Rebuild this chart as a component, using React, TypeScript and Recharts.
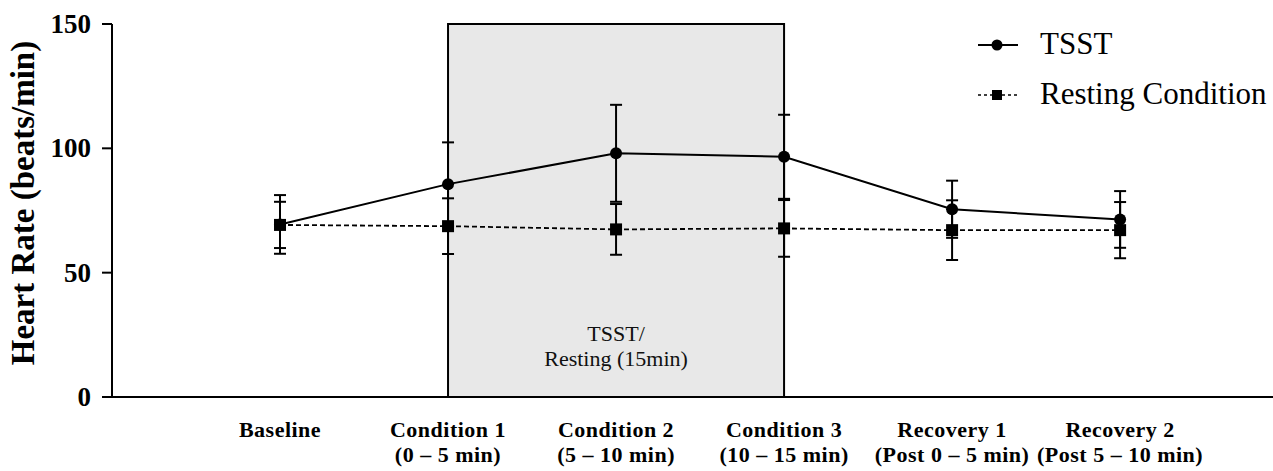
import { LineChart, Line, XAxis, YAxis, ErrorBar, ReferenceArea, Legend } from 'recharts'

const categories = ['Baseline', 'Condition 1', 'Condition 2', 'Condition 3', 'Recovery 1', 'Recovery 2']
const subLabels = ['', '(0 – 5 min)', '(5 – 10 min)', '(10 – 15 min)', '(Post 0 – 5 min)', '(Post 5 – 10 min)']
const tsstMean = [69.4, 85.6, 98.0, 96.6, 75.5, 71.4]
const tsstErr = [11.8, 16.8, 19.5, 16.9, 11.5, 11.4]
const restMean = [69.2, 68.7, 67.4, 67.8, 67.1, 67.1]
const restErr = [9.3, 11.2, 10.2, 11.4, 12.0, 11.3]
const yTicks = [0, 50, 100, 150]

const FONT = "'Times New Roman', 'Liberation Serif', serif"

const data = categories.map((c, i) => ({
  x: i + 1,
  name: c,
  tsst: tsstMean[i],
  tsstErr: tsstErr[i],
  rest: restMean[i],
  restErr: restErr[i],
}))

const CategoryTick = (props: any) => {
  const { x, y, payload } = props
  const i = payload.value - 1
  const style = { fontFamily: FONT, fontWeight: 'bold' as const, fontSize: 22, letterSpacing: 0.5 }
  return (
    <g>
      <text x={x} y={y + 40} textAnchor="middle" fill="#000" style={style}>{categories[i]}</text>
      {subLabels[i] && (
        <text x={x} y={y + 65} textAnchor="middle" fill="#000" style={style}>{subLabels[i]}</text>
      )}
    </g>
  )
}

const ValueTick = (props: any) => {
  const { x, y, payload } = props
  return (
    <text
      x={x}
      y={y + 9}
      textAnchor="end"
      fill="#000"
      style={{ fontFamily: FONT, fontWeight: 'bold', fontSize: 27 }}
    >
      {payload.value}
    </text>
  )
}

const CircleDot = (props: any) => {
  const { cx, cy, index } = props
  return <circle key={`c${index}`} cx={cx} cy={cy} r={6} fill="#000" />
}

const SquareDot = (props: any) => {
  const { cx, cy, index } = props
  return <rect key={`s${index}`} x={cx - 6} y={cy - 6} width={12} height={12} fill="#000" />
}

const BoxLabel = (props: any) => {
  const { viewBox } = props
  const cx = viewBox.x + viewBox.width / 2
  const bottom = viewBox.y + viewBox.height
  return (
    <g style={{ fontFamily: FONT, fontSize: 22 }}>
      <text x={cx} y={bottom - 56} textAnchor="middle" fill="#111">TSST/</text>
      <text x={cx} y={bottom - 31} textAnchor="middle" fill="#111">Resting (15min)</text>
    </g>
  )
}

const renderLegend = () => (
  <svg width={320} height={120} style={{ display: 'block' }}>
    <line x1={18} y1={45} x2={58} y2={45} stroke="#000" strokeWidth={2} />
    <circle cx={37} cy={45} r={5.5} fill="#000" />
    <text x={80} y={54} style={{ fontFamily: FONT, fontSize: 31 }} fill="#000">TSST</text>
    <line x1={18} y1={95} x2={58} y2={95} stroke="#000" strokeWidth={1.5} strokeDasharray="3 3" />
    <rect x={32} y={90} width={10} height={10} fill="#000" />
    <text x={80} y={104} style={{ fontFamily: FONT, fontSize: 31 }} fill="#000">Resting Condition</text>
  </svg>
)

export default function App() {
  return (
    <div style={{ position: 'absolute', left: 0, top: 0, width: 1273, height: 471, background: '#fff' }}>
      <LineChart width={1273} height={471} data={data} margin={{ top: 24, right: 0, bottom: 0, left: 0 }}>
        <ReferenceArea
          x1={2}
          x2={4}
          y1={0}
          y2={150}
          fill="#e8e8e8"
          fillOpacity={1}
          stroke="#000"
          strokeWidth={2}
          label={<BoxLabel />}
        />
        <XAxis
          dataKey="x"
          type="number"
          height={74}
          domain={[0, 6.91]}
          ticks={[1, 2, 3, 4, 5, 6]}
          tickLine={false}
          tickSize={0}
          tickMargin={0}
          axisLine={{ stroke: '#000', strokeWidth: 2 }}
          tick={<CategoryTick />}
          interval={0}
        />
        <YAxis
          width={112}
          domain={[0, 150]}
          ticks={yTicks}
          allowDataOverflow
          tickSize={10}
          tickMargin={11}
          axisLine={{ stroke: '#000', strokeWidth: 2 }}
          tickLine={{ stroke: '#000', strokeWidth: 2 }}
          tick={<ValueTick />}
          label={(p: any) => (
            <text
              x={34}
              y={203}
              transform="rotate(-90, 34, 203)"
              textAnchor="middle"
              fill="#000"
              style={{ fontFamily: FONT, fontWeight: 'bold', fontSize: 33 }}
            >
              Heart Rate (beats/min)
            </text>
          )}
        />
        <Line
          dataKey="tsst"
          stroke="#000"
          strokeWidth={2}
          dot={CircleDot}
          activeDot={false}
          isAnimationActive={false}
        >
          <ErrorBar dataKey="tsstErr" width={6} strokeWidth={2} stroke="#000" direction="y" />
        </Line>
        <Line
          dataKey="rest"
          stroke="#000"
          strokeWidth={1.8}
          strokeDasharray="5 3"
          dot={SquareDot}
          activeDot={false}
          isAnimationActive={false}
        >
          <ErrorBar dataKey="restErr" width={6} strokeWidth={2} stroke="#000" direction="y" />
        </Line>
        <Legend
          layout="vertical"
          align="center"
          verticalAlign="middle"
          content={renderLegend}
          wrapperStyle={{ position: 'absolute', left: 960, top: 0, width: 320, height: 120 }}
        />
      </LineChart>
    </div>
  )
}
